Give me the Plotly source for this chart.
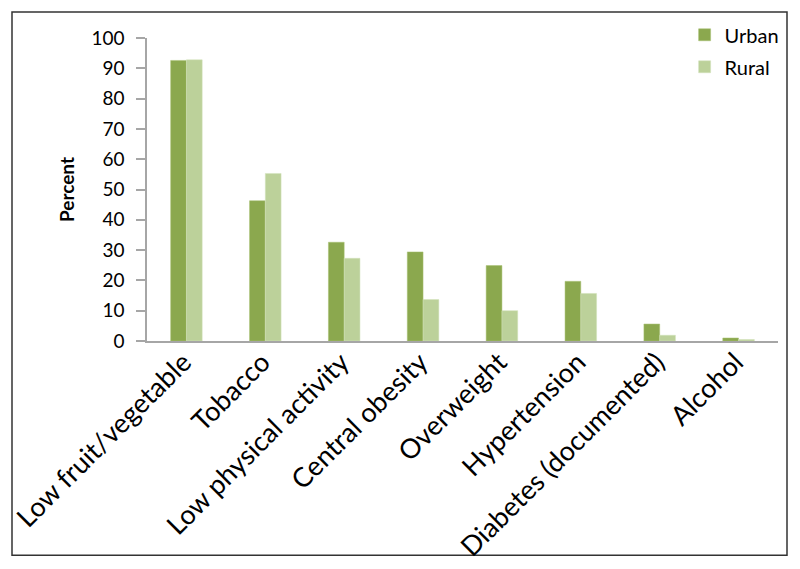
import plotly.graph_objects as go

categories = ["Low fruit/vegetable", "Tobacco", "Low physical activity", "Central obesity",
              "Overweight", "Hypertension", "Diabetes (documented)", "Alcohol"]
urban = [92.6, 46.3, 32.6, 29.4, 24.9, 19.7, 5.6, 1.0]
rural = [92.8, 55.3, 27.3, 13.7, 10.0, 15.7, 1.9, 0.5]
y_ticks = list(range(0, 101, 10))

FONT = "Lato"
# page body has an 8px margin, so figure coordinates are offset by 8px
L, T, R, B = 139, 30, 30, 235.5
PW, PH = 800 - L - R, 569 - T - B

fig = go.Figure()
fig.add_bar(x=categories, y=urban, name="Urban", legendgroup="u",
            marker=dict(color="#8BA84E", line=dict(color="#A9C173", width=0.5)))
fig.add_bar(x=categories, y=rural, name="Rural", legendgroup="r",
            marker=dict(color="#BCD19A", line=dict(color="#D3E2BC", width=0.5)))

fig.update_layout(
    width=800, height=569,
    margin=dict(l=L, r=R, t=T, b=B, autoexpand=False),
    paper_bgcolor="white", plot_bgcolor="white",
    barmode="group", bargap=0.6, bargroupgap=0,
    font=dict(family=FONT, color="#000000"),
    showlegend=True,
    legend=dict(x=0.852, y=1.075, xanchor="left", yanchor="top",
                font=dict(size=20, family=FONT), tracegroupgap=3, itemwidth=30,
                bgcolor="rgba(0,0,0,0)"),
    xaxis=dict(showline=True, linecolor="#A6A6A6", linewidth=1.5, ticks="",
               tickangle=-45, tickfont=dict(size=27, family=FONT), showgrid=False,
               ticklabelstandoff=-7, ticklabelshift=-3,
               automargin=False),
    yaxis=dict(range=[0, 100], tickvals=y_ticks, showgrid=False, zeroline=False,
               showline=True, linecolor="#A6A6A6", linewidth=1.5,
               ticks="outside", ticklen=9, tickcolor="#A6A6A6", tickwidth=1.5,
               ticklabelstandoff=8,
               tickfont=dict(size=19, family=FONT), automargin=False,
               title=dict(text="<b>Percent</b>", font=dict(size=19, family=FONT), standoff=12)),
)

fig.add_shape(type="rect", xref="paper", yref="paper",
              x0=(4 - L) / PW, x1=(779 - L) / PW,
              y0=(PH + T - 548) / PH, y1=(PH + T - 4) / PH,
              line=dict(color="#333333", width=1.5), fillcolor="rgba(0,0,0,0)", layer="below")

fig.write_html("out.html")
